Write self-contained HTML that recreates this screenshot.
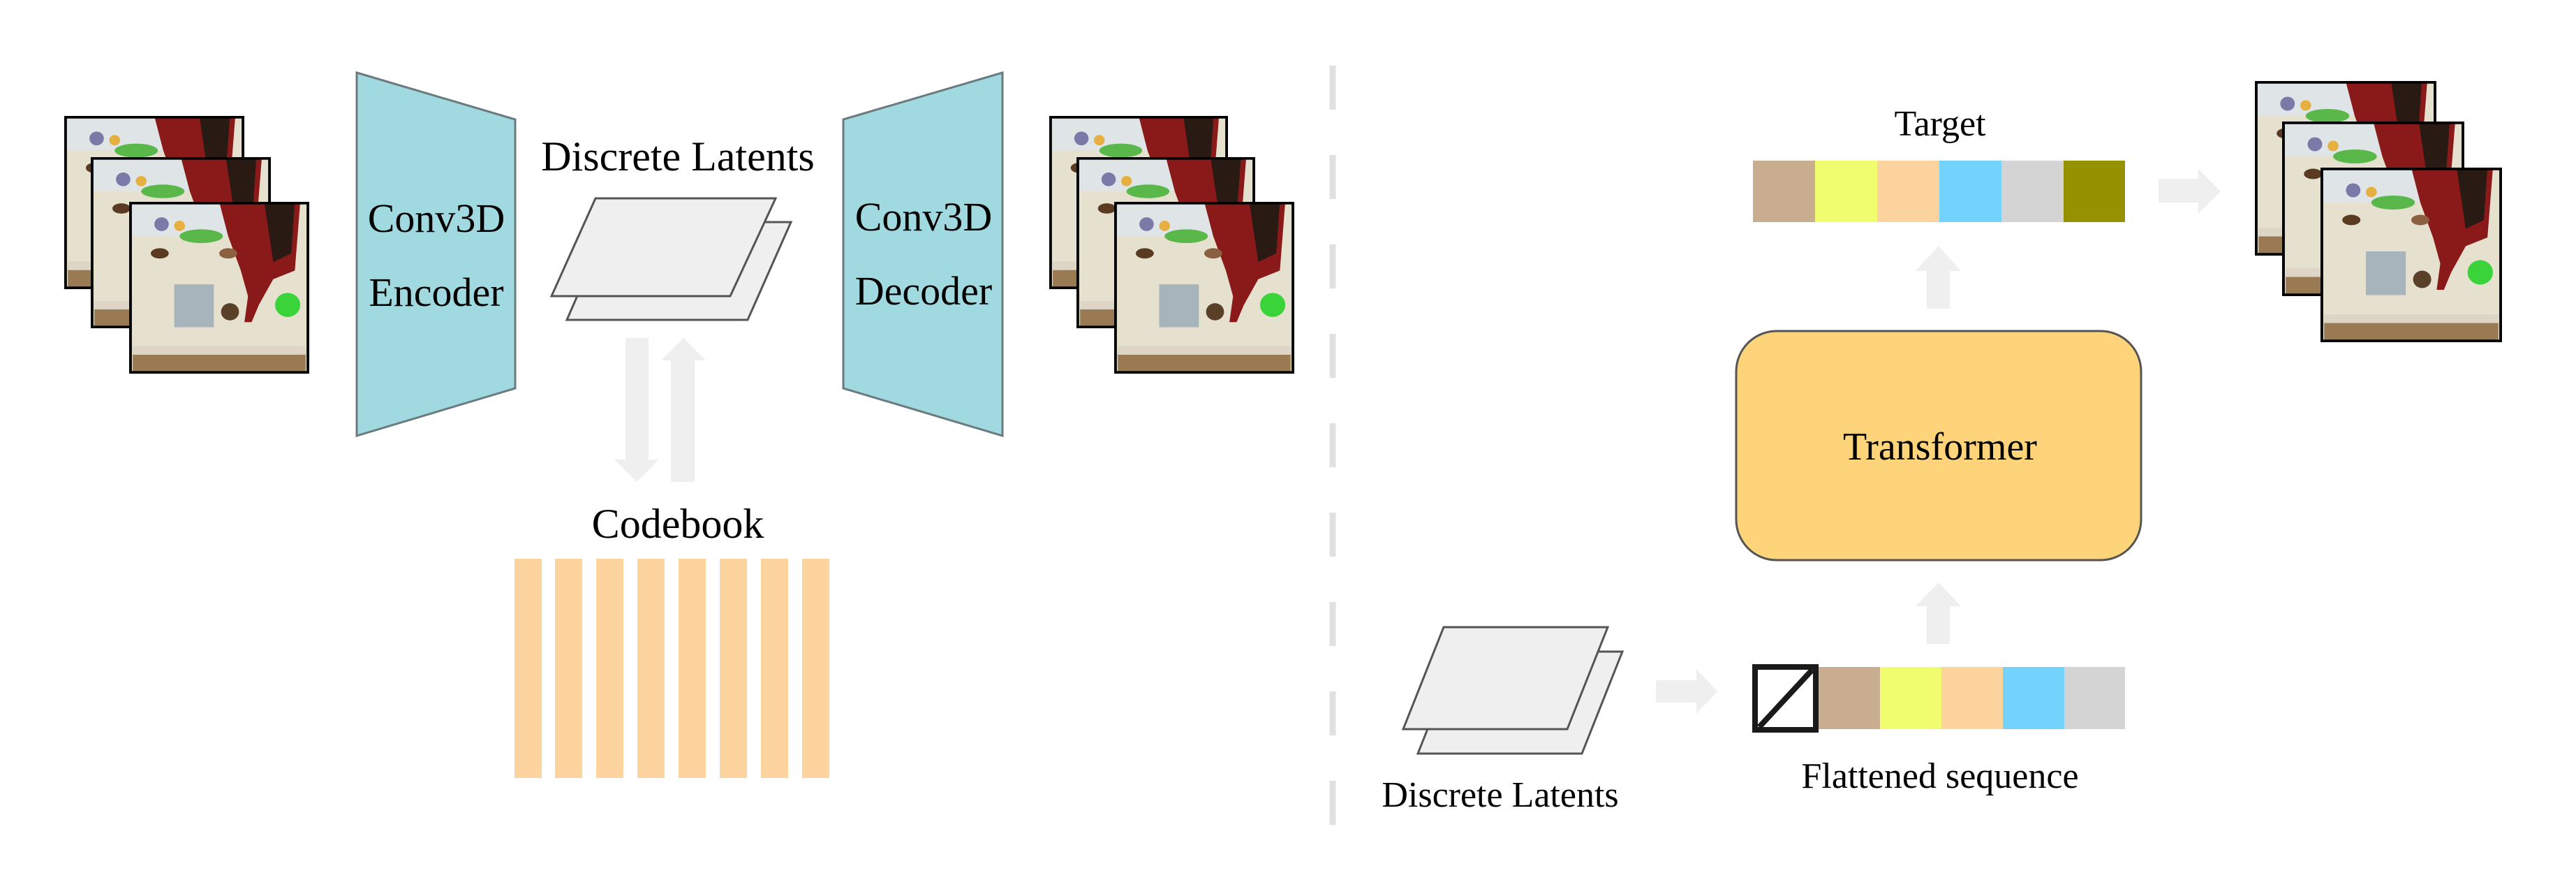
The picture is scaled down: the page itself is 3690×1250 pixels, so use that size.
<!DOCTYPE html>
<html><head><meta charset="utf-8"><style>
html,body{margin:0;padding:0;background:#fff;}
svg{display:block;}
text{font-family:"Liberation Serif",serif;fill:#000;}
</style></head><body>
<svg width="3690" height="1250" viewBox="0 0 3690 1250" xmlns="http://www.w3.org/2000/svg">
<defs>
<symbol id="fr" viewBox="0 0 100 100" preserveAspectRatio="none">
<rect x="0" y="0" width="100" height="100" fill="#e6e0cf"/>
<rect x="0" y="0" width="55" height="20" fill="#dfe4e6"/>
<rect x="2" y="88" width="96" height="12" fill="#9a7a52"/>
<rect x="2" y="84" width="96" height="5" fill="#ddd6c6"/>
<path d="M50 0 L95 0 L92 40 L80 45 L72 60 L68 70 L64 70 L66 55 L62 40 L55 20 Z" fill="#8a1a1a"/>
<path d="M75 0 L92 0 L90 30 L80 35 Z" fill="#2a1a14"/>
<ellipse cx="40" cy="20" rx="12" ry="4" fill="#5ab84a"/>
<ellipse cx="28" cy="14" rx="3" ry="3" fill="#e6b040"/>
<ellipse cx="18" cy="13" rx="4" ry="4" fill="#7a7aa8"/>
<ellipse cx="17" cy="30" rx="5" ry="3" fill="#5a3a20"/>
<ellipse cx="55" cy="30" rx="5" ry="3" fill="#8a6040"/>
<rect x="25" y="48" width="22" height="25" fill="#a8b4bc"/>
<circle cx="56" cy="64" r="5" fill="#5a4028"/>
<circle cx="88" cy="60" r="7" fill="#3ad33a"/>
<rect x="0" y="0" width="100" height="100" fill="none" stroke="#000" stroke-width="3"/>
</symbol>
</defs>

<!-- left frames -->
<use href="#fr" x="92" y="166" width="258" height="248"/>
<use href="#fr" x="130" y="225" width="258" height="245"/>
<use href="#fr" x="185" y="289" width="258" height="246"/>

<!-- encoder -->
<polygon points="511,104 738,171 738,556 511,624" fill="#a1d9e0" stroke="#6a7a7e" stroke-width="3"/>
<text x="625" y="332" font-size="58" text-anchor="middle">Conv3D</text>
<text x="625" y="438" font-size="58" text-anchor="middle">Encoder</text>

<!-- discrete latents top -->
<text x="971" y="244" font-size="60" text-anchor="middle">Discrete Latents</text>
<polygon points="873,318 1133,318 1071,458 812,458" fill="#efefef" stroke="#555" stroke-width="3"/>
<polygon points="853,284 1111,284 1046,424 790,424" fill="#efefef" stroke="#555" stroke-width="3"/>

<!-- arrows codebook -->
<polygon points="896,484 929,484 929,658 944,658 912,690 880,658 896,658" fill="#efefef"/>
<polygon points="961,690 995,690 995,516 1011,516 979,484 947,516 961,516" fill="#efefef"/>

<text x="971" y="770" font-size="60" text-anchor="middle">Codebook</text>
<g fill="#fdd49e">
<rect x="737" y="800" width="39" height="314"/>
<rect x="795" y="800" width="39" height="314"/>
<rect x="854" y="800" width="39" height="314"/>
<rect x="913" y="800" width="39" height="314"/>
<rect x="972" y="800" width="39" height="314"/>
<rect x="1031" y="800" width="39" height="314"/>
<rect x="1090" y="800" width="39" height="314"/>
<rect x="1149" y="800" width="39" height="314"/>
</g>

<!-- decoder -->
<polygon points="1208,171 1436,104 1436,624 1208,556" fill="#a1d9e0" stroke="#6a7a7e" stroke-width="3"/>
<text x="1323" y="330" font-size="58" text-anchor="middle">Conv3D</text>
<text x="1323" y="436" font-size="58" text-anchor="middle">Decoder</text>

<!-- right frames (left half) -->
<use href="#fr" x="1503" y="166" width="256" height="248"/>
<use href="#fr" x="1542" y="225" width="256" height="245"/>
<use href="#fr" x="1596" y="289" width="258" height="246"/>

<!-- dashed divider -->
<line x1="1909" y1="94" x2="1909" y2="1200" stroke="#e0e0e0" stroke-width="9" stroke-dasharray="63 65"/>

<!-- target -->
<text x="2779" y="194" font-size="52" text-anchor="middle">Target</text>
<rect x="2511" y="230" width="89" height="88" fill="#c8ae8e"/>
<rect x="2600" y="230" width="89" height="88" fill="#f0fd6e"/>
<rect x="2689" y="230" width="89" height="88" fill="#fdd49e"/>
<rect x="2778" y="230" width="89" height="88" fill="#74d3fd"/>
<rect x="2867" y="230" width="89" height="88" fill="#d4d4d4"/>
<rect x="2956" y="230" width="88" height="88" fill="#969100"/>

<polygon points="3092,256 3149,256 3149,242 3181,274 3149,306 3149,290 3092,290" fill="#efefef"/>

<use href="#fr" x="3230" y="116" width="260" height="250"/>
<use href="#fr" x="3269" y="174" width="261" height="250"/>
<use href="#fr" x="3324" y="240" width="260" height="250"/>

<!-- up arrows -->
<polygon points="2760,442 2793,442 2793,388 2809,388 2777,352 2744,388 2760,388" fill="#efefef"/>
<polygon points="2760,922 2793,922 2793,868 2809,868 2777,834 2744,868 2760,868" fill="#efefef"/>

<!-- transformer -->
<rect x="2487" y="474" width="580" height="328" rx="58" ry="58" fill="#fed47a" stroke="#555" stroke-width="3"/>
<text x="2779" y="658" font-size="56" text-anchor="middle">Transformer</text>

<!-- bottom latents -->
<polygon points="2089,933 2324,933 2266,1079 2031,1079" fill="#efefef" stroke="#555" stroke-width="3"/>
<polygon points="2068,898 2303,898 2245,1044 2010,1044" fill="#efefef" stroke="#555" stroke-width="3"/>
<text x="2149" y="1155" font-size="52" text-anchor="middle">Discrete Latents</text>

<polygon points="2372,974 2430,974 2430,958 2460,990 2430,1022 2430,1006 2372,1006" fill="#efefef"/>

<!-- flattened sequence -->
<rect x="2514" y="955" width="87" height="90" fill="#fff" stroke="#1a1a1a" stroke-width="8"/>
<line x1="2520" y1="1041" x2="2596" y2="959" stroke="#1a1a1a" stroke-width="8"/>
<rect x="2605" y="955" width="88" height="89" fill="#c8ae8e"/>
<rect x="2693" y="955" width="88" height="89" fill="#f0fd6e"/>
<rect x="2781" y="955" width="88" height="89" fill="#fdd49e"/>
<rect x="2869" y="955" width="88" height="89" fill="#74d3fd"/>
<rect x="2957" y="955" width="87" height="89" fill="#d4d4d4"/>
<text x="2779" y="1128" font-size="52" text-anchor="middle">Flattened sequence</text>
</svg>
</body></html>
